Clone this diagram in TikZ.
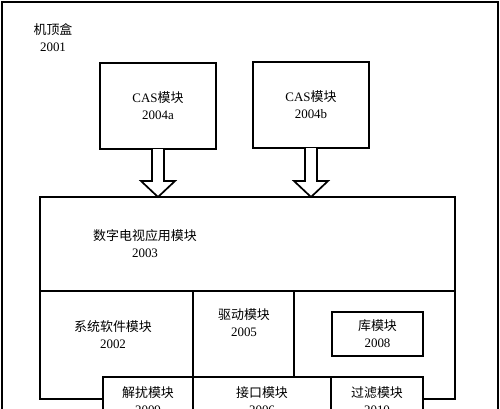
\documentclass[tikz,border=0pt]{standalone}
\usepackage{fontspec}
\setmainfont{Liberation Serif}
\newfontfamily\cjk{Noto Sans CJK SC}
\usepackage{tikz}
\usetikzlibrary{calc}
\tikzstyle{modbox} = [rectangle, draw=black, line width=1.7bp, fill=white,
    inner sep=0pt, outer sep=0pt, anchor=north west,
    text centered, align=center, font=\fontsize{13}{17}\selectfont]
\tikzstyle{modtext} = [align=center, inner sep=0pt, font=\fontsize{13}{17}\selectfont]
\tikzstyle{hollow} = [draw=black, line width=1.7bp, fill=white, line join=miter]
\newcommand{\fatarrow}[2]{%
  \draw[hollow] ($(#1.south)+(-6,0)$) -- ($(#1.south |- #2.north)+(-6,-16)$)
    -- ++(-11,0) -- (#1.south |- #2.north) -- ++(17,-16) -- ++(-11,0)
    -- ($(#1.south)+(6,0)$);}

\begin{document}
\begin{tikzpicture}[x=1bp, y=-1bp]
  \useasboundingbox (0,0) rectangle (500,408);
  \node[modbox, minimum width=496bp, minimum height=440bp] (stb) at (2,2) {};
  \node[modtext] (stblbl) at (53,37.5) {{\cjk 机顶盒}\\2001};

  \node[modbox, minimum width=116bp, minimum height=86bp] (casa) at (100,63) {CAS{\cjk 模块}\\2004a};
  \node[modbox, minimum width=116bp, minimum height=86bp] (casb) at (253,62) {CAS{\cjk 模块}\\2004b};

  \node[modbox, minimum width=415bp, minimum height=94bp] (app) at (40,197) {};
  \node[modtext] (applbl) at (145,243.5) {{\cjk 数字电视应用模块}\\2003};

  \node[modbox, minimum width=153bp, minimum height=108bp] (sys) at (40,291) {};
  \node[modtext] (syslbl) at (113,334.5) {{\cjk 系统软件模块}\\2002};
  \node[modbox, minimum width=161bp, minimum height=108bp] (rest) at (294,291) {};
  \node[modbox, minimum width=101bp, minimum height=86bp] (drv) at (193,291) {};
  \node[modtext] (drvlbl) at (244,322.5) {{\cjk 驱动模块}\\2005};
  \node[modbox, minimum width=91bp, minimum height=44bp] (lib) at (332,312) {{\cjk 库模块}\\2008};

  % bottom row, cut by the page edge
  \node[modbox, minimum width=90bp, minimum height=50bp] (desc) at (103,377) {};
  \node[modtext] (desclbl) at (148,400.5) {{\cjk 解扰模块}\\2009};
  \node[modbox, minimum width=138bp, minimum height=50bp] (intf) at (193,377) {};
  \node[modtext] (intflbl) at (262,400.5) {{\cjk 接口模块}\\2006};
  \node[modbox, minimum width=92bp, minimum height=50bp] (filt) at (331,377) {};
  \node[modtext] (filtlbl) at (377,400.5) {{\cjk 过滤模块}\\2010};

  \fatarrow{casa}{app}
  \fatarrow{casb}{app}
\end{tikzpicture}
\end{document}
